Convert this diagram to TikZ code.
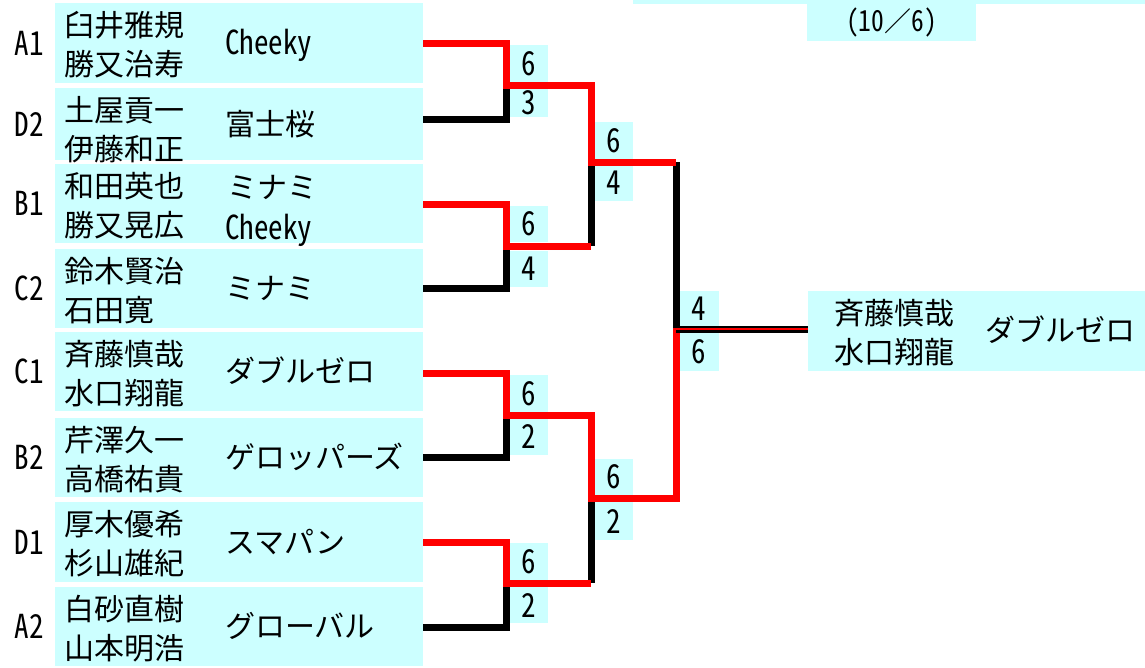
\documentclass[tikz,border=0pt]{standalone}
\usepackage{fontspec}
\setmainfont{Noto Sans CJK JP}
\newfontfamily\hw{Noto Sans CJK JP}[RawFeature=+hwid, FakeStretch=0.88]
\definecolor{cellc}{HTML}{CCFFFF}
\begin{document}
\begin{tikzpicture}[x=1pt,y=-1pt,
  jp/.style={font=\fontsize{30}{30}\selectfont, inner sep=0pt},
  lat/.style={font=\hw\fontsize{33}{33}\selectfont, inner sep=0pt},
  score/.style={font=\hw\fontsize{33}{33}\selectfont, inner sep=0pt, fill=cellc},
  win/.style={draw=red, line width=7pt, line join=miter},
  lose/.style={draw=black, line width=7pt, line join=miter}]
\useasboundingbox (0,0) rectangle (1145,667);

% top strip and date
\fill[cellc] (633,0) rectangle (1145,4);
\node[fill=cellc, minimum width=169pt, minimum height=37pt, inner sep=0pt,
      font=\fontsize{27}{27}\selectfont] (date) at (891.5,22.5) {{\hw\fontsize{29}{29}\selectfont (10}／{\hw\fontsize{29}{29}\selectfont 6)}};

% team rows
\foreach \lab/\na/\nb/\tm/\ya/\yb [count=\i] in {
 A1/臼井雅規/勝又治寿/{\hw\fontsize{33}{33}\selectfont Cheeky}/3/83,
 D2/土屋貢一/伊藤和正/富士桜/88/160,
 B1/和田英也/勝又晃広//164/243,
 C2/鈴木賢治/石田寛/ミナミ/249/328,
 C1/斉藤慎哉/水口翔龍/ダブルゼロ/332/411,
 B2/芹澤久一/高橋祐貴/ゲロッパーズ/418/497,
 D1/厚木優希/杉山雄紀/スマパン/502/582,
 A2/白砂直樹/山本明浩/グローバル/587/666}
{
 \fill[cellc] (55,\ya) rectangle (423,\yb);
 \pgfmathsetmacro\cy{(\ya+\yb)/2}
 \node[lat, anchor=base] (lab\i) at (29,\cy+12) {\lab};
 \node[jp, anchor=base west] (na\i) at (64,\ya+33) {\na};
 \node[jp, anchor=base west] (nb\i) at (64,\ya+72) {\nb};
 \node[jp, anchor=base west] (tm\i) at (225,\cy+11) {\tm};
}
\node[jp, anchor=base west] (tm3a) at (227,198) {ミナミ};
\node[lat, anchor=base west] (tm3b) at (225,239) {Cheeky};

% winner box
\fill[cellc] (808,291) rectangle (1145,371);
\node[jp, anchor=base west] (wna) at (834,324) {斉藤慎哉};
\node[jp, anchor=base west] (wnb) at (834,363) {水口翔龍};
\node[jp, anchor=base west] (wtm) at (985,341) {ダブルゼロ};

% score boxes
\node[score, minimum width=38pt, minimum height=38pt] (r1a) at (529,64) {6};
\node[score, minimum width=38pt, minimum height=29pt] (r1b) at (529,102.5) {3};
\node[score, minimum width=38pt, minimum height=36pt] (r1c) at (529,224) {6};
\node[score, minimum width=38pt, minimum height=36pt] (r1d) at (529,269) {4};
\node[score, minimum width=38pt, minimum height=37pt] (r1e) at (529,393.5) {6};
\node[score, minimum width=38pt, minimum height=37pt] (r1f) at (529,436.5) {2};
\node[score, minimum width=38pt, minimum height=37pt] (r1g) at (529,561.5) {6};
\node[score, minimum width=38pt, minimum height=36pt] (r1h) at (529,605) {2};
\node[score, minimum width=38pt, minimum height=38pt] (r2a) at (614,141) {6};
\node[score, minimum width=38pt, minimum height=36pt] (r2b) at (614,183) {4};
\node[score, minimum width=38pt, minimum height=36pt] (r2c) at (614,477) {6};
\node[score, minimum width=38pt, minimum height=38pt] (r2d) at (614,521) {2};
\node[score, minimum width=40pt, minimum height=36pt] (fa) at (699,309) {4};
\node[score, minimum width=40pt, minimum height=38pt] (fb) at (699,352) {6};

% bracket coordinates
\coordinate (s1) at (423,43);
\coordinate (s2) at (423,119);
\coordinate (s3) at (423,204);
\coordinate (s4) at (423,288);
\coordinate (s5) at (423,373);
\coordinate (s6) at (423,457);
\coordinate (s7) at (423,542);
\coordinate (s8) at (423,627);
\coordinate (j1a) at (506,85);
\coordinate (j1b) at (506,246);
\coordinate (j1c) at (506,415);
\coordinate (j1d) at (506,583);
\coordinate (j2a) at (591,162);
\coordinate (j2b) at (591,498);
\coordinate (q1) at (676,162);
\coordinate (q2) at (676,498);
\coordinate (fin) at (676,329);
\coordinate (w) at (808,329);

% losers
\draw[lose] (s2) -| (j1a);
\draw[lose] (s4) -| (j1b);
\draw[lose] (s6) -| (j1c);
\draw[lose] (s8) -| (j1d);
\draw[lose] (j1b -| j2a) -- (j2a);
\draw[lose] (j1d -| j2b) -- (j2b);
\draw[lose] (q1) -- (fin);
% winners
\draw[win] (s1) -| (j1a) -| (j2a) -- (q1);
\draw[win] (s3) -| (j1b) -- (j1b -| j2a);
\draw[win] (s7) -| (j1d) -- (j1d -| j2b);
\draw[win] (s5) -| (j1c) -| (j2b) -- (q2) -- (fin);
% final
\draw[black, line width=7pt] (fin) -- (w);
\draw[red, line width=1.8pt] ([xshift=-3pt]fin) -- (w);
\end{tikzpicture}
\end{document}
